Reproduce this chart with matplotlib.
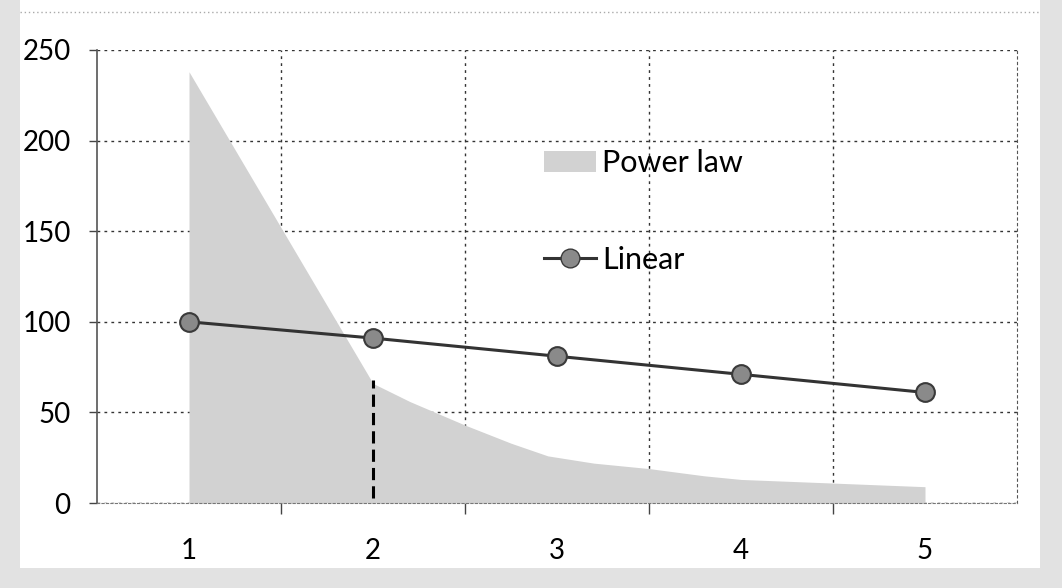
import matplotlib.pyplot as plt
from matplotlib.patches import Rectangle
from matplotlib.lines import Line2D
from matplotlib.patches import Patch

# category axis 1..5
categories = [1, 2, 3, 4, 5]
linear_vals = [100, 91, 81, 71, 61]

# power law area
power_x = [1, 2, 2.2, 2.5, 2.75, 2.95, 3.2, 3.5, 3.8, 4, 4.5, 5]
power_y = [238, 66, 56, 43, 33, 26, 22, 19, 15, 13, 11, 9]

# dashed cut-off marker
cutoff_x = 2
cutoff_top = 68

y_ticks = [0, 50, 100, 150, 200, 250]

plt.rcParams['font.family'] = ['Lato', 'DejaVu Sans']

W, H = 1062, 588
fig = plt.figure(figsize=(W / 100, H / 100), dpi=100)
fig.patch.set_facecolor('white')
# scanned grey border
band = '#e2e2e2'
for x0, y0, w, h in [(0, 0, 20, H), (1040, 0, 22, H), (0, 0, W, 20)]:
    fig.patches.append(Rectangle((x0 / W, y0 / H), w / W, h / H, transform=fig.transFigure,
                                 facecolor=band, edgecolor='none', zorder=-10))
fig.add_artist(Line2D([20 / W, 1040 / W], [1 - 12 / H, 1 - 12 / H], transform=fig.transFigure,
                      color='#aaaaaa', linestyle=(0, (1, 2)), linewidth=1))

ax = fig.add_axes([97 / W, 1 - 503 / H, 920 / W, 453 / H])
ax.set_facecolor('white')

ax.fill_between(power_x, power_y, 0, color='#d2d2d2', linewidth=0, zorder=2)
ax.plot([cutoff_x, cutoff_x], [3, cutoff_top], color='black', linestyle=(0, (4, 2)),
        linewidth=2.2, zorder=3)
ax.plot(categories, linear_vals, color='#333333', linewidth=2.2, marker='o',
        markersize=13.5, markerfacecolor='#8a8a8a', markeredgecolor='#3a3a3a',
        markeredgewidth=1.5, zorder=4)

ax.set_xlim(0.5, 5.5)
ax.set_ylim(0, 250)
ax.set_xticks(categories)
ax.set_xticks([1.5, 2.5, 3.5, 4.5], minor=True)
ax.set_yticks(y_ticks)
ax.tick_params(axis='x', which='major', length=0, pad=25, labelsize=20)
ax.tick_params(axis='x', which='minor', length=8, width=1, color='#444444')
ax.tick_params(axis='y', length=6, width=1, pad=13, labelsize=20, color='#444444')

ax.grid(True, which='minor', axis='x', color='#333333', linestyle=(0, (2, 3)), linewidth=1, zorder=1)
ax.grid(True, which='major', axis='y', color='#333333', linestyle=(0, (2, 3)), linewidth=1, zorder=1)
ax.set_axisbelow(True)

ax.spines['top'].set_visible(False)
ax.spines['left'].set_color('#555555')
ax.spines['left'].set_linewidth(1.2)
ax.spines['right'].set_color('#555555')
ax.spines['right'].set_linestyle((0, (2, 3)))
ax.spines['bottom'].set_color('#777777')
ax.spines['bottom'].set_linestyle((0, (2, 2)))

handles = [Patch(facecolor='#d2d2d2', edgecolor='none'),
           Line2D([], [], color='#333333', linewidth=2.2, marker='o', markersize=13.5,
                  markerfacecolor='#8a8a8a', markeredgecolor='#3a3a3a')]
ax.legend(handles, ['Power law', 'Linear'], loc='upper left',
          bbox_to_anchor=(0.469, 0.815), frameon=False, fontsize=22, borderpad=0,
          labelspacing=2.25, handlelength=1.7, handletextpad=0.2)

fig.savefig('out.png', dpi=100)
